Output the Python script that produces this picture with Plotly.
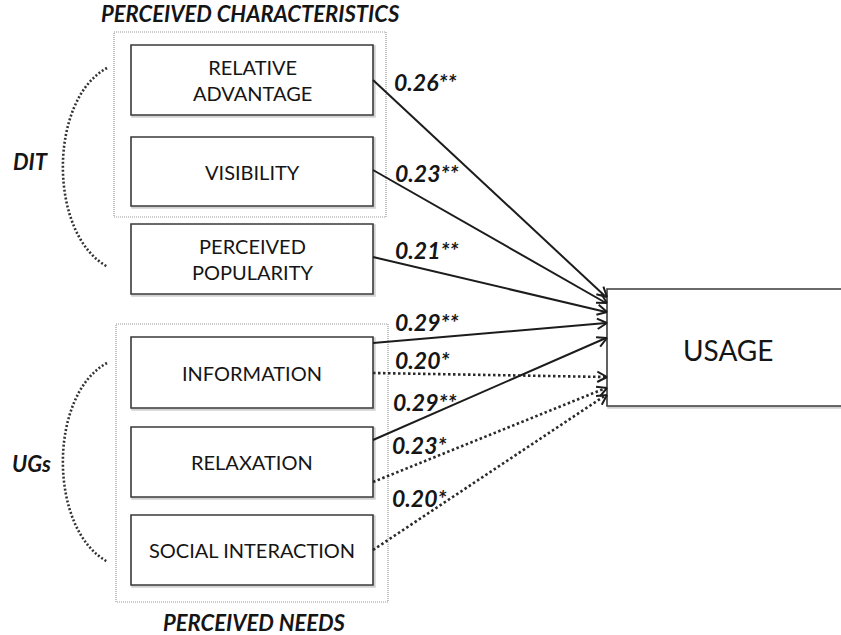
import math
import plotly.graph_objects as go

# ---------------- data ----------------
predictors = ["RELATIVE<br>ADVANTAGE", "VISIBILITY", "PERCEIVED<br>POPULARITY",
              "INFORMATION", "RELAXATION", "SOCIAL INTERACTION"]
outcome = "USAGE"
group_titles = ["PERCEIVED CHARACTERISTICS", "PERCEIVED NEEDS"]
theory_labels = ["DIT", "UGs"]
path_source = [0, 1, 2, 3, 3, 4, 4, 5]
path_coef = [0.26, 0.23, 0.21, 0.29, 0.20, 0.29, 0.23, 0.20]
path_stars = ["**", "**", "**", "**", "*", "**", "*", "*"]

# ---------------- layout geometry (pixels) ----------------
W, H = 841, 635
box_x = (131, 373)
box_y = [(45, 115), (137, 206), (224, 294), (337, 408), (427, 497), (515, 585)]
outer_boxes = [(114, 32, 386, 217), (116, 324, 388, 602)]
usage_box = (607, 289, 850, 406)
path_start_y = [80, 170, 257, 343, 373, 440, 482, 550]
path_end_y = [297, 303, 312, 323, 377, 338, 388, 395]
label_pos = [(392, 82), (393, 173), (393, 250), (393, 322), (393, 360),
             (391, 402), (390, 445), (390, 498)]
arcs = [((107, 68), (108, 267)), ((107, 363), (108, 562))]
theory_pos = [(31, 161), (31, 463)]
title_pos = [(250, 13), (254, 622)]

FONT = "Lato"
TXT = "#151515"
LINE = "#1c1c1c"

shapes = []
annotations = []

# outer dotted group boxes
for (x0, y0, x1, y1) in outer_boxes:
    shapes.append(dict(type="rect", xref="x", yref="y", x0=x0, y0=y0, x1=x1, y1=y1,
                       line=dict(color="#9a9a9a", width=1.2, dash="1px,1px"),
                       fillcolor="rgba(0,0,0,0)", layer="below"))

# predictor boxes with soft shadow
for i, (y0, y1) in enumerate(box_y):
    shapes.append(dict(type="rect", xref="x", yref="y", x0=box_x[0] + 1.5, y0=y0 + 1.5,
                       x1=box_x[1] + 1.5, y1=y1 + 1.5,
                       line=dict(color="rgba(0,0,0,0.18)", width=2.5),
                       fillcolor="rgba(0,0,0,0)"))
    shapes.append(dict(type="rect", xref="x", yref="y", x0=box_x[0], y0=y0,
                       x1=box_x[1], y1=y1, line=dict(color="#3a3a3a", width=1.6),
                       fillcolor="white"))
    annotations.append(dict(x=(box_x[0] + box_x[1]) / 2, y=(y0 + y1) / 2, xref="x", yref="y",
                            text=predictors[i], showarrow=False,
                            font=dict(family=FONT, size=20, color=TXT),
                            xanchor="center", yanchor="middle"))

# usage box
ux0, uy0, ux1, uy1 = usage_box
shapes.append(dict(type="rect", xref="x", yref="y", x0=ux0 + 1.5, y0=uy0 + 1.5, x1=ux1, y1=uy1 + 1.5,
                   line=dict(color="rgba(0,0,0,0.18)", width=2.5), fillcolor="rgba(0,0,0,0)"))
shapes.append(dict(type="rect", xref="x", yref="y", x0=ux0, y0=uy0, x1=ux1, y1=uy1,
                   line=dict(color="#3a3a3a", width=1.6), fillcolor="white"))
annotations.append(dict(x=728, y=350, xref="x", yref="y", text=outcome, showarrow=False,
                        font=dict(family=FONT, size=28, color=TXT),
                        xanchor="center", yanchor="middle"))

# paths
for k, src in enumerate(path_source):
    x0, y0 = box_x[1], path_start_y[k]
    x1, y1 = usage_box[0], path_end_y[k]
    solid = path_stars[k] == "**"
    shapes.append(dict(type="line", xref="x", yref="y", x0=x0, y0=y0, x1=x1 - 1, y1=y1,
                       line=dict(color=LINE if solid else "#2a2a2a",
                                 width=2 if solid else 2.6,
                                 dash="solid" if solid else "2.5px,2.5px")))
    # chevron arrow head
    ang = math.atan2(y1 - y0, x1 - x0)
    L, a = 11, math.radians(28)
    for s in (1, -1):
        shapes.append(dict(type="line", xref="x", yref="y", x0=x1, y0=y1,
                           x1=x1 - L * math.cos(ang + s * a), y1=y1 - L * math.sin(ang + s * a),
                           line=dict(color=LINE, width=2)))
    lx, ly = label_pos[k]
    annotations.append(dict(x=lx, y=ly, xref="x", yref="y",
                            text="<b><i>%.2f%s</i></b>" % (path_coef[k], path_stars[k]),
                            showarrow=False, font=dict(family=FONT, size=23, color=TXT),
                            xanchor="left", yanchor="middle"))

# theory arcs
for ((xa, ya), (xb, yb)) in arcs:
    c1 = (48, ya + (yb - ya) * 0.16)
    c2 = (48, ya + (yb - ya) * 0.84)
    path = "M %g,%g C %g,%g %g,%g %g,%g" % (xa, ya, c1[0], c1[1], c2[0], c2[1], xb, yb)
    shapes.append(dict(type="path", xref="x", yref="y", path=path,
                       line=dict(color="#333333", width=2.6, dash="2px,2px")))

for i, t in enumerate(theory_labels):
    annotations.append(dict(x=theory_pos[i][0], y=theory_pos[i][1], xref="x", yref="y",
                            text="<b><i>%s</i></b>" % t, showarrow=False,
                            font=dict(family=FONT, size=22, color=TXT),
                            xanchor="center", yanchor="middle"))

for i, t in enumerate(group_titles):
    annotations.append(dict(x=title_pos[i][0], y=title_pos[i][1], xref="x", yref="y",
                            text="<b><i>%s</i></b>" % t, showarrow=False,
                            font=dict(family=FONT, size=22, color=TXT),
                            xanchor="center", yanchor="middle"))

fig = go.Figure()
fig.add_trace(go.Scatter(x=[0, W], y=[0, H], mode="markers",
                         marker=dict(opacity=0), hoverinfo="skip", showlegend=False))
fig.update_layout(
    width=W, height=H, margin=dict(l=0, r=0, t=0, b=0),
    paper_bgcolor="white", plot_bgcolor="white",
    xaxis=dict(range=[0, W], visible=False, fixedrange=True),
    yaxis=dict(range=[H, 0], visible=False, fixedrange=True),
    shapes=shapes, annotations=annotations, showlegend=False,
)
fig.write_html("out.html", config={"displayModeBar": False},
               post_script="document.body.style.margin='0';document.body.style.overflow='hidden';")
